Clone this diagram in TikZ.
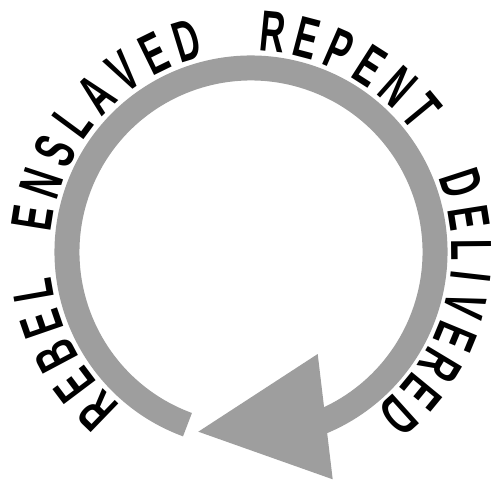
\documentclass[tikz,border=0pt]{standalone}
\usepackage{fontspec}
\usepackage{xcolor}
\usepackage{tikz}
\usetikzlibrary{arrows.meta}

\newfontfamily\ringfont{Liberation Sans}[FakeStretch=0.6,UprightFont=*-Bold]
\definecolor{ringgray}{RGB}{158,158,158}

\begin{document}
\begin{tikzpicture}[x=1pt,y=1pt,
        ring/.style={draw=ringgray,line width=25pt},
        tip/.style={fill=ringgray},
        letter/.style={anchor=base,inner sep=0pt,font=\ringfont\fontsize{58}{58}\selectfont}]
        \useasboundingbox (0,0) rectangle (503,485);
        \coordinate (c) at (251,233);
        % the cycle
        \draw[ring] ([shift={(249.8:184)}]c) arc[start angle=249.8,end angle=-70,radius=184];
        \coordinate (tipA) at (198.3,53.3);
        \coordinate (tipB) at (317.7,131);
        \coordinate (tipC) at (332.7,5.7);
        \fill[tip] (tipA) -- (tipB) -- (tipC) -- cycle;
        % words round the ring
        \foreach \ang/\ch [count=\i] in {226/R,217/E,208/B,199/E,190/L}
          \node[letter,rotate=\ang-90] (rebel\i) at ([shift={(\ang:201)}]c) {\ch};
        \foreach \ang/\ch [count=\i] in {171/E,161.9/N,152.7/S,143.6/L,134.4/A,125.3/V,116.1/E,107/D}
          \node[letter,rotate=\ang-90] (enslaved\i) at ([shift={(\ang:201)}]c) {\ch};
        \foreach \ang/\ch [count=\i] in {84.3/R,75.3/E,66.4/P,57.4/E,48.4/N,39.5/T}
          \node[letter,rotate=\ang-90] (repent\i) at ([shift={(\ang:201)}]c) {\ch};
        \foreach \ang/\ch [count=\i] in {18/D,9/E,0.5/L,-6.5/I,-14/V,-22.5/E,-31/R,-39.5/E,-48/D}
          \node[letter,rotate=\ang-90] (delivered\i) at ([shift={(\ang:201)}]c) {\ch};
      \end{tikzpicture}
\end{document}
